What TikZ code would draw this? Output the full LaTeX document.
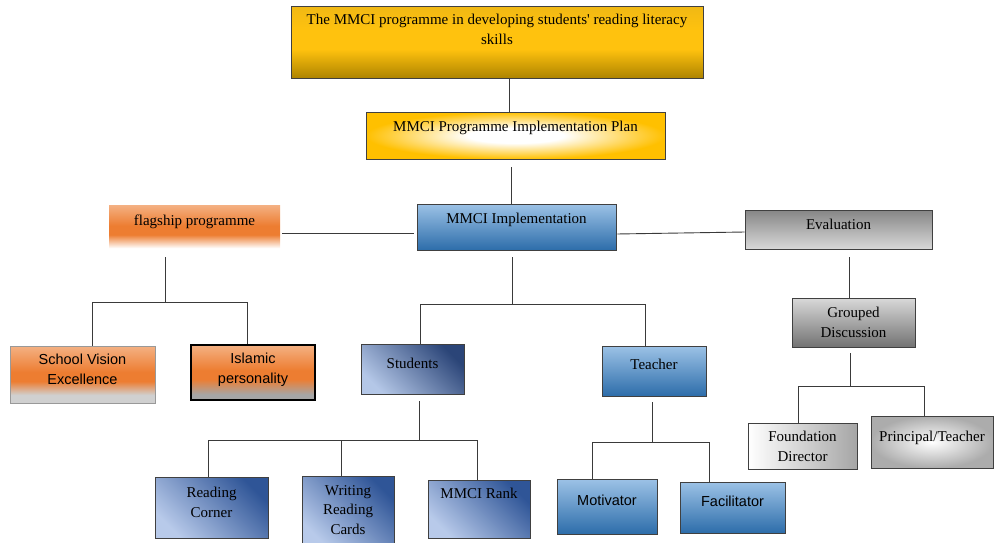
\documentclass[tikz,border=0pt]{standalone}
\usepackage{fontspec}
\setmainfont{Liberation Serif}[Ligatures=TeXOff]
\newfontfamily\arialfont{Liberation Sans}
\usepackage{tikz}
\usetikzlibrary{positioning}

\definecolor{goldTop}{HTML}{F0B814}
\definecolor{goldMid}{HTML}{FFC20E}
\definecolor{goldBot}{HTML}{AE8400}
\definecolor{goldEdge}{HTML}{FFC000}
\definecolor{blueTop}{HTML}{9CC2E6}
\definecolor{blueMid}{HTML}{5E9BD3}
\definecolor{blueBot}{HTML}{2D6DAA}
\definecolor{stuLight}{HTML}{B4C7E7}
\definecolor{stuMid}{HTML}{4472C4}
\definecolor{stuDark}{HTML}{2B4578}
\definecolor{cardLight}{HTML}{B8CAEA}
\definecolor{cardMid}{HTML}{8AA6DA}
\definecolor{cardDark}{HTML}{2F5597}
\definecolor{orgTop}{HTML}{F4B183}
\definecolor{orgMid}{HTML}{ED7D31}
\definecolor{greyLow}{HTML}{D0D0D0}
\definecolor{greyDeep}{HTML}{A6A6A6}
\definecolor{linkGray}{HTML}{3A3A3A}

% vertical shadings: 25bp = bottom edge, 75bp = top edge
\pgfdeclareverticalshading{goldshade}{100bp}{color(0bp)=(goldBot); color(25bp)=(goldBot);
  color(45bp)=(goldMid); color(58bp)=(goldMid); color(75bp)=(goldTop); color(100bp)=(goldTop)}
\pgfdeclareverticalshading{flagshade}{100bp}{color(0bp)=(white); color(27bp)=(white);
  color(42bp)=(orgMid); color(52bp)=(orgMid); color(75bp)=(orgTop); color(100bp)=(orgTop)}
\pgfdeclareverticalshading{visionshade}{100bp}{color(0bp)=(greyLow); color(32bp)=(greyLow);
  color(44bp)=(orgMid); color(52bp)=(orgMid); color(75bp)=(orgTop); color(100bp)=(orgTop)}
\pgfdeclareverticalshading{islamshade}{100bp}{color(0bp)=(greyDeep); color(30bp)=(greyDeep);
  color(44bp)=(orgMid); color(52bp)=(orgMid); color(75bp)=(orgTop); color(100bp)=(orgTop)}
\pgfdeclareradialshading{planshade}{\pgfpoint{0bp}{0bp}}{color(0bp)=(white); color(8bp)=(white);
  color(25bp)=(goldEdge); color(50bp)=(goldEdge)}

\tikzset{
  box/.style={draw=black!75, line width=0.8pt, inner sep=0pt},
  lbl/.style={inner sep=0pt, align=center, font=\fontsize{15}{19.5}\selectfont},
  sanslbl/.style={lbl, font=\fontsize{14.5}{19.5}\selectfont\arialfont},
  link/.style={draw=linkGray, line width=0.9pt},
  gap/.style={shorten <=7pt}
}

\begin{document}
\begin{tikzpicture}[x=1pt, y=-1pt]
\useasboundingbox (0,0) rectangle (994,542);

% Top level
\node[box, minimum width=412pt, minimum height=72pt, shading=goldshade] (title) at (497,42) {};
\node[lbl, below=8.5pt of title.north] {The MMCI programme in developing students' reading literacy\\skills};

\node[box, minimum width=299pt, minimum height=47pt, shading=planshade] (plan) at (515.5,135.5) {};
\node[lbl, below=9.5pt of plan.north] {MMCI Programme Implementation Plan};

% Second level
\node[box, minimum width=199pt, minimum height=46pt,
  top color=blueTop, middle color=blueMid, bottom color=blueBot] (impl) at (516.5,227) {};
\node[lbl, below=9.5pt of impl.north] {MMCI Implementation};

\node[inner sep=0pt, minimum width=171pt, minimum height=45pt, shading=flagshade] (flag) at (194.5,227.5) {};
\node[lbl, below=9.5pt of flag.north] {flagship programme};

\node[box, minimum width=187pt, minimum height=39pt,
  top color=gray!95, bottom color=gray!30] (eval) at (838.5,229.5) {};
\node[lbl, below=9.5pt of eval.north] {Evaluation};

% Flagship branch
\node[box, draw=gray!80, minimum width=145pt, minimum height=57pt, shading=visionshade] (vision) at (82.5,374.5) {};
\node[sanslbl, below=8.5pt of vision.north] {School Vision\\Excellence};

\node[box, draw=black, line width=1.4pt, minimum width=124pt, minimum height=55pt,
  shading=islamshade] (islamic) at (253,372.5) {};
\node[sanslbl, below=8.5pt of islamic.north] {Islamic\\personality};

% Implementation branch
\node[box, minimum width=103pt, minimum height=50pt,
  top color=stuLight, middle color=stuMid, bottom color=stuDark, shading angle=135] (students) at (412.5,369) {};
\node[lbl, below=14.5pt of students.north] {Students};

\node[box, minimum width=104pt, minimum height=50pt,
  top color=blueTop, middle color=blueMid, bottom color=blueBot] (teacher) at (654,371) {};
\node[lbl, below=13.5pt of teacher.north] {Teacher};

% Students branch
\node[box, minimum width=113pt, minimum height=61pt,
  top color=cardLight, middle color=cardMid, bottom color=cardDark, shading angle=135] (corner) at (211.5,507.5) {};
\node[lbl, below=10.5pt of corner.north] {Reading\\Corner};

\node[box, minimum width=92pt, minimum height=70pt,
  top color=cardLight, middle color=cardMid, bottom color=cardDark, shading angle=135] (cards) at (348,511) {};
\node[lbl, below=9.5pt of cards.north] {Writing\\Reading\\Cards};

\node[box, minimum width=102pt, minimum height=58pt,
  top color=cardLight, middle color=cardMid, bottom color=cardDark, shading angle=135] (rank) at (479,509) {};
\node[lbl, below=8.5pt of rank.north] {MMCI Rank};

% Teacher branch
\node[box, minimum width=100pt, minimum height=55pt,
  top color=blueTop, middle color=blueMid, bottom color=blueBot] (motivator) at (607,506.5) {};
\node[sanslbl, below=16.5pt of motivator.north] {Motivator};

\node[box, minimum width=105pt, minimum height=51pt,
  top color=blueTop, middle color=blueMid, bottom color=blueBot] (facilitator) at (732.5,507.5) {};
\node[sanslbl, below=14.5pt of facilitator.north] {Facilitator};

% Evaluation branch
\node[box, minimum width=123pt, minimum height=49pt,
  top color=gray!30, bottom color=gray!110] (grouped) at (853.5,322.5) {};
\node[lbl, below=9.5pt of grouped.north] {Grouped\\Discussion};

\node[box, minimum width=109pt, minimum height=46pt,
  left color=white, right color=gray!70] (director) at (802.5,446) {};
\node[lbl, below=8.5pt of director.north] {Foundation\\Director};

\node[box, minimum width=122pt, minimum height=52pt,
  inner color=white, outer color=gray!65] (principal) at (932,442) {};
\node[lbl, below=15.5pt of principal.north] {Principal/Teacher};

% Junctions
\coordinate (c0) at (509,95);
\coordinate (c1) at (511,185);
\coordinate (fj) at (165,302);
\coordinate (fjl) at (92,302);
\coordinate (fjr) at (247,302);
\coordinate (ij) at (512,304);
\coordinate (ijl) at (420,304);
\coordinate (ijr) at (645,304);
\coordinate (sj) at (419,440);
\coordinate (sjl) at (208,440);
\coordinate (sjm) at (341,440);
\coordinate (sjr) at (477,440);
\coordinate (tj) at (652,442);
\coordinate (tjl) at (592,442);
\coordinate (tjr) at (709,442);
\coordinate (ej) at (849,275);
\coordinate (gj) at (850,386);
\coordinate (gjl) at (798,386);
\coordinate (gjr) at (924,386);

% Connectors
\draw[link] (title.south -| c0) -- (plan.north -| c0);
\draw[link, shorten <=8pt] (plan.south -| c1) -- (impl.north -| c1);
\draw[link, shorten <=2pt, shorten >=3pt] ([yshift=-5.5pt]flag.east) -- ([yshift=-6pt]impl.west);
\draw[link, shorten <=1pt] ([yshift=-7pt]impl.east) -- ([yshift=-2.5pt]eval.west);

\draw[link, gap] (flag.south -| fj) -- (fj);
\draw[link] (vision.north -| fjl) |- (fjr) -- (islamic.north -| fjr);

\draw[link, gap] (impl.south -| ij) -- (ij);
\draw[link] (students.north -| ijl) |- (ijr) -- (teacher.north -| ijr);

\draw[link, gap] (students.south -| sj) -- (sj);
\draw[link] (corner.north -| sjl) |- (sjr) -- (rank.north -| sjr);
\draw[link] (sjm) -- (cards.north -| sjm);

\draw[link, shorten <=6pt] (teacher.south -| tj) -- (tj);
\draw[link] (motivator.north -| tjl) |- (tjr) -- (facilitator.north -| tjr);

\draw[link, shorten <=8pt] (eval.south -| ej) -- (grouped.north -| ej);
\draw[link, shorten <=6pt] (grouped.south -| gj) -- (gj);
\draw[link] (director.north -| gjl) |- (gjr) -- (principal.north -| gjr);
\end{tikzpicture}
\end{document}
